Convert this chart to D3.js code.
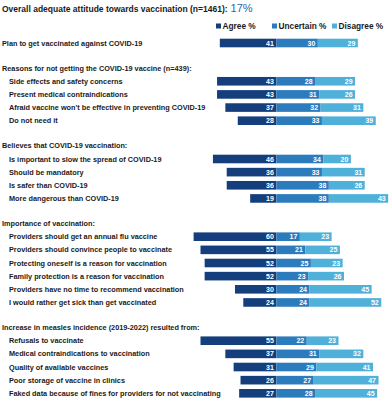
<!DOCTYPE html>
<html><head><meta charset="utf-8">
<script src="https://cdn.jsdelivr.net/npm/d3@7"></script>
<style>body{margin:0;background:#fff}svg{display:block}text{font-family:"Liberation Sans",Arial,sans-serif}</style>
</head><body><svg id="c" width="389" height="400"></svg>
<script>
const labels = [
  "Plan to get vaccinated against COVID-19",
  "Side effects and safety concerns",
  "Present medical contraindications",
  "Afraid vaccine won't be effective in preventing COVID-19",
  "Do not need it",
  "Is important to slow the spread of COVID-19",
  "Should be mandatory",
  "Is safer than COVID-19",
  "More dangerous than COVID-19",
  "Providers should get an annual flu vaccine",
  "Providers should convince people to vaccinate",
  "Protecting oneself is a reason for vaccination",
  "Family protection is a reason for vaccination",
  "Providers have no time to recommend vaccination",
  "I would rather get sick than get vaccinated",
  "Refusals to vaccinate",
  "Medical contraindications to vaccination",
  "Quality of available vaccines",
  "Poor storage of vaccine in clinics",
  "Faked data because of fines for providers for not vaccinating"
];
const agree     = [41, 43,43,37,28, 46,36,36,19, 60,55,52,52,30,24, 55,37,31,26,27];
const uncertain = [30, 28,31,32,33, 34,33,38,38, 17,21,25,23,24,24, 22,31,29,27,28];
const disagree  = [29, 29,26,31,39, 20,31,26,43, 23,25,23,26,45,52, 23,32,41,47,45];
const group     = [0, 1,1,1,1, 2,2,2,2, 3,3,3,3,3,3, 4,4,4,4,4];
const groupTitles = [null,
  "Reasons for not getting the COVID-19 vaccine (n=439):",
  "Believes that COVID-19 vaccination:",
  "Importance of vaccination:",
  "Increase in measles incidence (2019-2022) resulted from:"];
const seriesNames = ["Agree %", "Uncertain %", "Disagree %"];
const colors = ["#143f7c", "#2b7bbd", "#4fb1da"];
const titleText = "Overall adequate attitude towards vaccination (n=1461):";
const titleValue = "17%";

const svg = d3.select("#c");
const x = d3.scaleLinear().domain([-60, 60]).range([276.4 - 82.8, 276.4 + 82.8]);
const y = d3.scaleLinear().domain([0, 1]).range([43, 56.15]);
const GAP = 0.91;

let slot = -1, prevGroup = -1;
const rows = [], headers = [];
labels.forEach((lab, i) => {
  if (group[i] !== prevGroup && group[i] > 0) {
    slot += 1 + GAP;
    headers.push({text: groupTitles[group[i]], slot});
  }
  slot += 1;
  prevGroup = group[i];
  rows.push({lab, a: agree[i], u: uncertain[i], d: disagree[i], g: group[i], slot});
});

// title
const t = svg.append("text").attr("x", 2).attr("y", 6.5).attr("dy", "0.35em");
t.append("tspan").text(titleText).attr("font-weight", "bold").attr("font-size", "8.5px").attr("fill", "#1a1a1a");
t.append("tspan").text(" " + titleValue).attr("font-size", "11px").attr("fill", "#2b63ad");

// legend
const legX = [216, 272, 332];
const leg = svg.append("g");
seriesNames.forEach((n, i) => {
  leg.append("rect").attr("x", legX[i]).attr("y", 23.5).attr("width", 5).attr("height", 5).attr("fill", colors[i]);
  leg.append("text").attr("x", legX[i] + 6.5).attr("y", 26).attr("dy", "0.35em")
    .attr("font-size", "8.3px").attr("font-weight", "bold").attr("fill", "#1a1a1a").text(n);
});

// headers
svg.append("g").selectAll("text").data(headers).join("text")
  .attr("x", 2).attr("y", d => y(d.slot)).attr("dy", "0.35em")
  .attr("font-size", "7.3px").attr("font-weight", "bold").attr("fill", "#1a1a1a").text(d => d.text);

// row labels
svg.append("g").selectAll("text").data(rows).join("text")
  .attr("x", d => d.g === 0 ? 2 : 9).attr("y", d => y(d.slot)).attr("dy", "0.35em")
  .attr("font-size", "7.3px").attr("font-weight", "bold").attr("fill", "#1a1a1a").text(d => d.lab);

// bars
const bh = 8.6;
const segs = [];
rows.forEach(r => {
  segs.push({x0: -r.a, x1: 0, v: r.a, c: 0, slot: r.slot});
  segs.push({x0: 0, x1: r.u, v: r.u, c: 1, slot: r.slot});
  segs.push({x0: r.u, x1: r.u + r.d, v: r.d, c: 2, slot: r.slot});
});
svg.append("g").selectAll("rect").data(segs).join("rect")
  .attr("x", d => x(d.x0)).attr("width", d => x(d.x1) - x(d.x0))
  .attr("y", d => y(d.slot) - bh / 2).attr("height", bh)
  .attr("fill", d => colors[d.c]);
svg.append("g").selectAll("text").data(segs).join("text")
  .attr("x", d => x(d.x1) - 2.5).attr("y", d => y(d.slot)).attr("dy", "0.36em")
  .attr("text-anchor", "end").attr("font-size", "7px").attr("font-weight", "bold")
  .attr("fill", "#fff").text(d => d.v);
</script></body></html>
